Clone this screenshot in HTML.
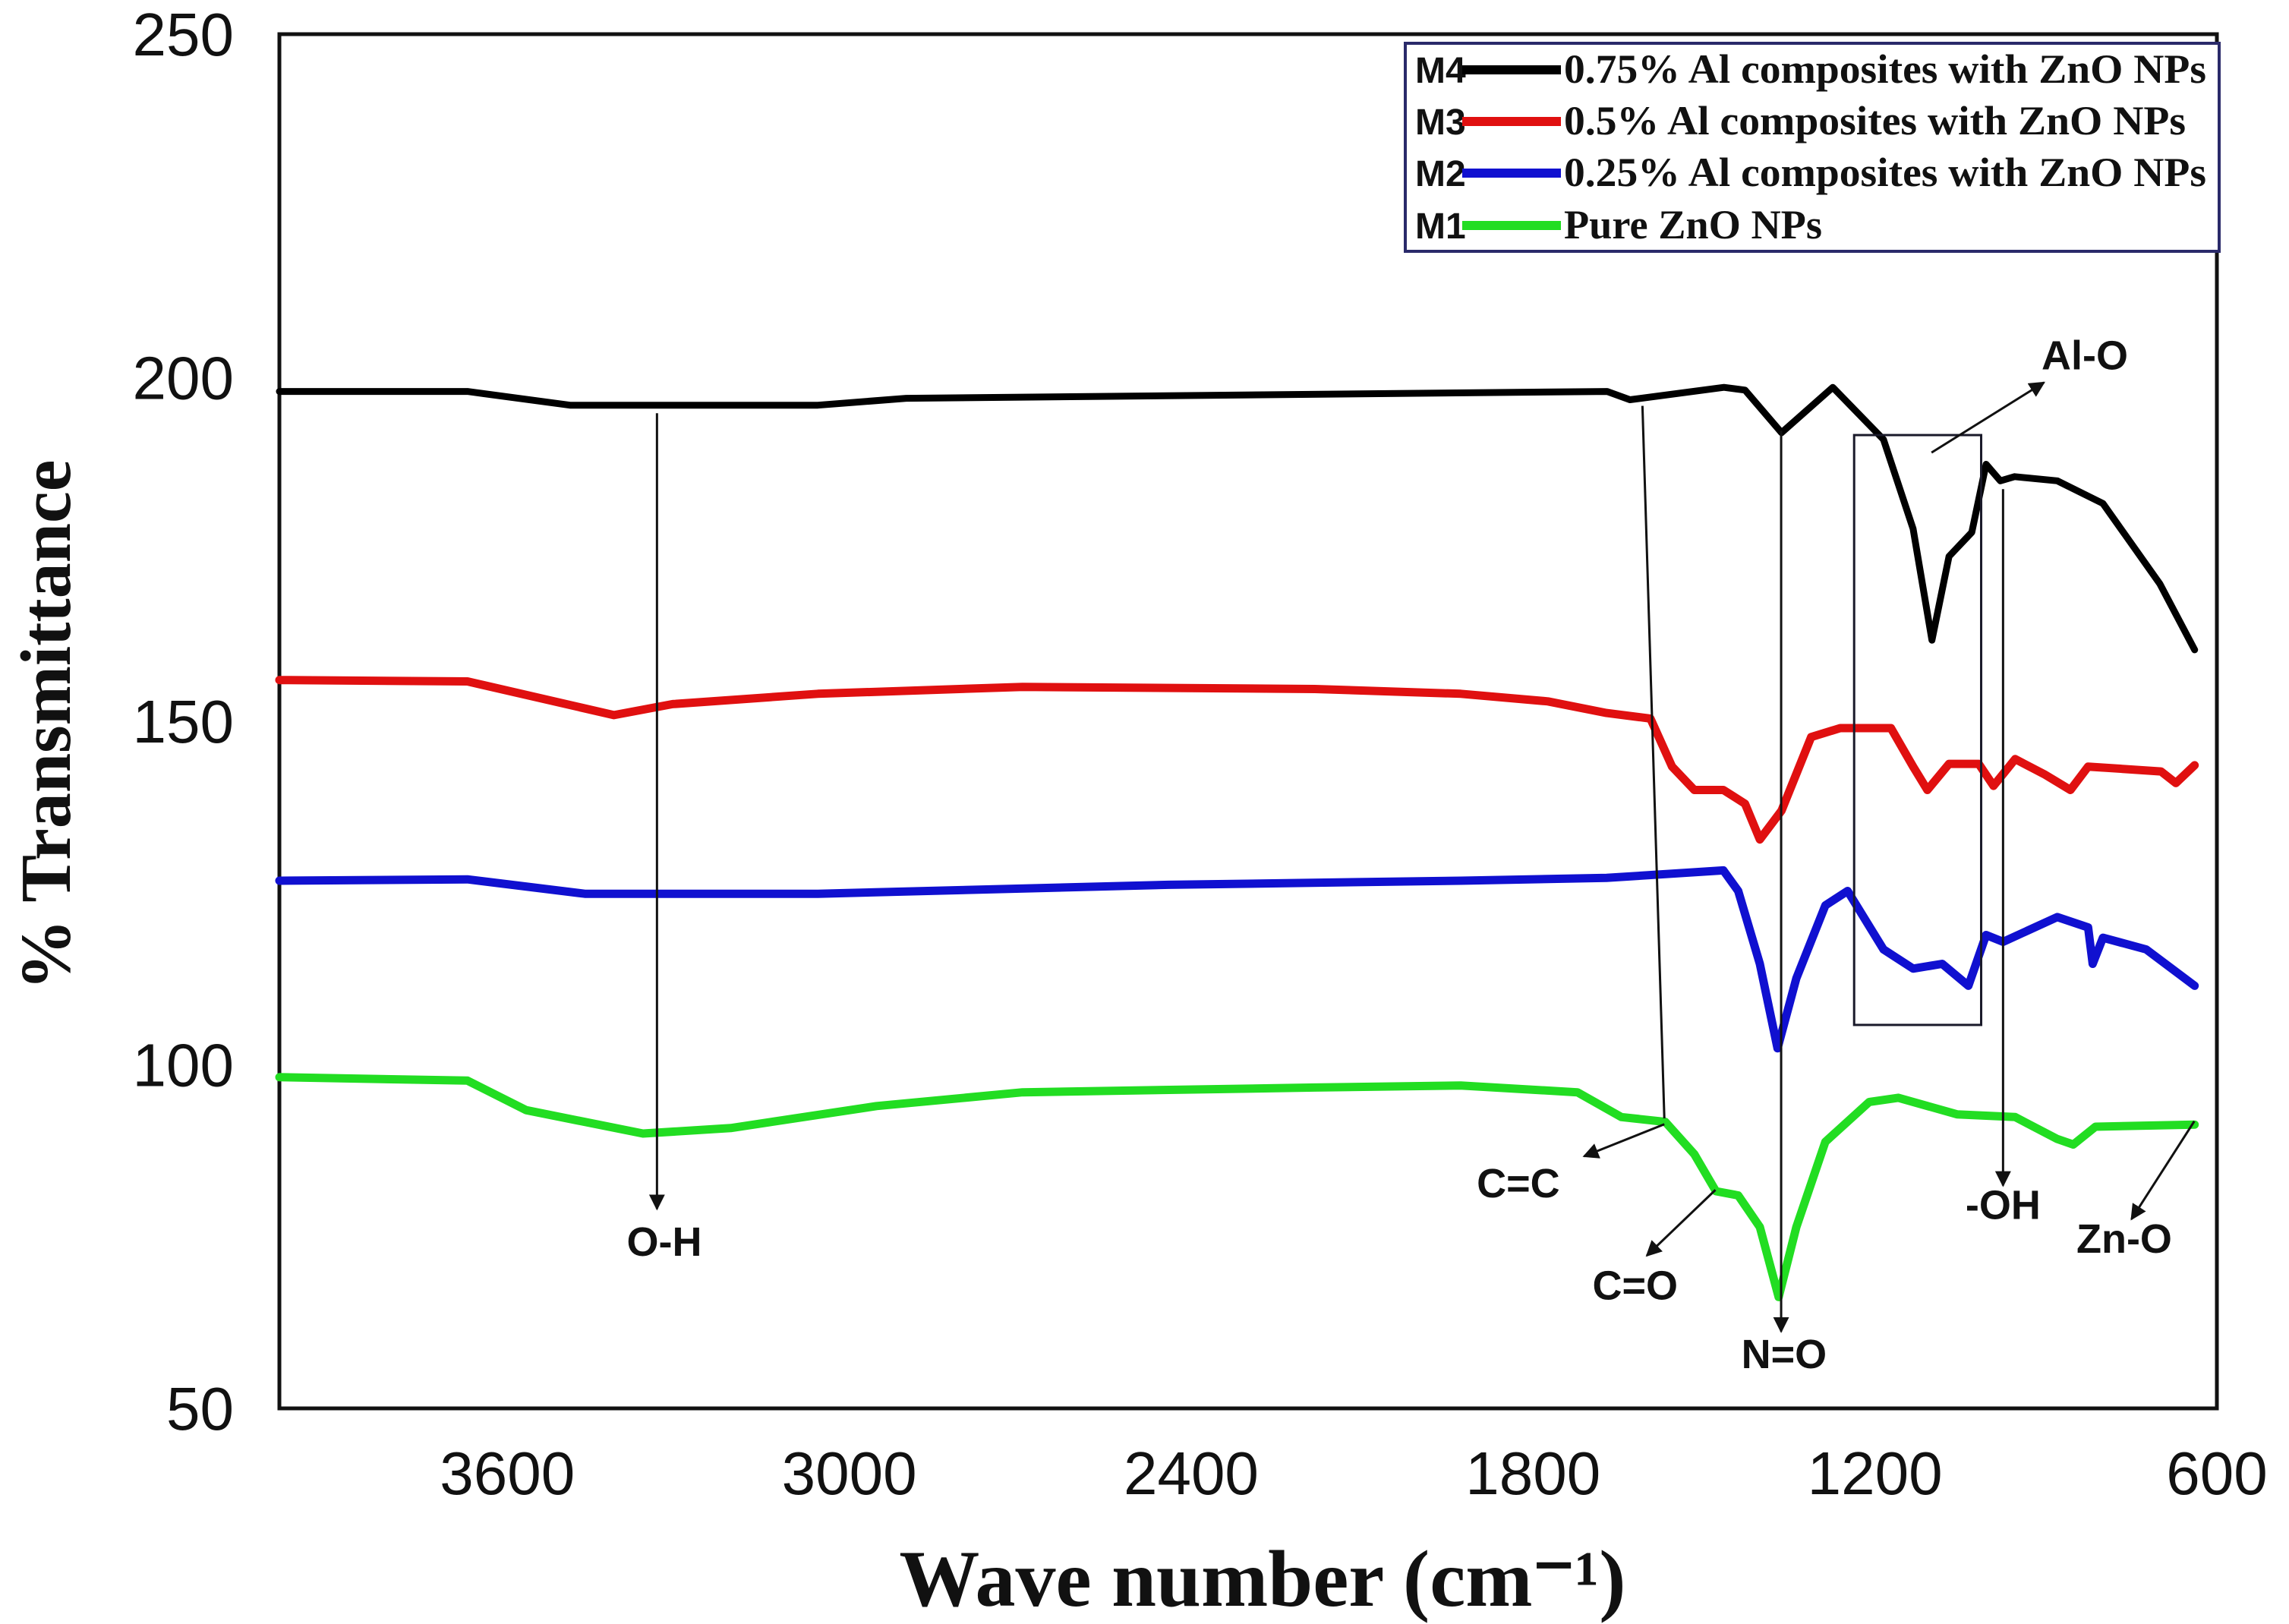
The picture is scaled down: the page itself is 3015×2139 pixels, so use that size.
<!DOCTYPE html>
<html><head><meta charset="utf-8"><style>
html,body{margin:0;padding:0;background:#fff;}
svg{display:block;}
.tick{font-family:"Liberation Sans",sans-serif;font-size:80px;fill:#111;}
.ann{font-family:"Liberation Sans",sans-serif;font-size:54px;font-weight:bold;fill:#111;}
.leg{font-family:"Liberation Serif",serif;font-size:54px;font-weight:bold;fill:#111;}
.legm{font-family:"Liberation Sans",sans-serif;font-size:48px;font-weight:bold;fill:#111;}
</style></head><body>
<svg id="chart" width="3015" height="2139" viewBox="0 0 3015 2139" xmlns="http://www.w3.org/2000/svg">
<defs><marker id="ah" viewBox="0 0 10 10" refX="9" refY="5" markerWidth="7" markerHeight="7" orient="auto-start-reverse"><path d="M0,0 L10,5 L0,10 z" fill="#111"/></marker></defs>
<rect x="368" y="45" width="2552" height="1810" fill="none" stroke="#111" stroke-width="5"/>
<g id="ticks"></g>
<g id="series"></g>
<g id="annotations"></g>
<text x="1663" y="2115" text-anchor="middle" font-family="Liberation Serif,serif" font-weight="bold" font-size="106" fill="#111">Wave number (cm⁻¹)</text>
<text transform="translate(92,955) rotate(-90)" text-anchor="middle" font-family="Liberation Serif,serif" font-weight="bold" font-size="94" fill="#111">% Transmittance</text>
<g>
<rect x="1851" y="57" width="1072" height="274" fill="#fff" stroke="#2a2a6a" stroke-width="4"/>
</g>
<g id="legend-entries"></g>
</svg>
<script>
const xTicks=[3600,3000,2400,1800,1200,600];
const yTicks=[50,100,150,200,250];
const legendLabels=["0.75% Al composites  with ZnO NPs","0.5% Al composites  with ZnO NPs","0.25% Al composites  with ZnO NPs","Pure ZnO NPs"];
const legendCodes=["M4","M3","M2","M1"];
const colors=["#000000","#e01010","#1010d0","#22dd22"];
const m4wn=[4000,3670,3490,3055,2900,1670,1630,1465,1428,1364,1274,1185,1133,1100,1070,1030,1005,980,955,880,800,700,639];
const m4val=[198,198,196,196,197,198,196.8,198.6,198.2,192,198.6,191,178,161.8,174,177.5,187.4,185,185.6,185,181.7,170,160.4];
const m3wn=[4000,3670,3413,3310,3055,2696,2183,1927,1774,1671,1594,1556,1517,1466,1428,1402,1364,1312,1261,1172,1133,1108,1070,1018,992,954,903,857,826,698,672,639];
const m3val=[156,155.8,150.9,152.5,154,155,154.7,154,152.9,151.2,150.4,143.4,140,140,138,132.8,137,147.7,149,149,143.4,140,143.8,143.8,140.6,144.5,142.3,140,143.4,142.7,141,143.6];
const m2wn=[4000,3670,3464,3055,2440,1927,1671,1466,1440,1402,1371,1338,1287,1248,1185,1133,1082,1036,1005,975,880,826,818,800,724,639];
const m2val=[126.8,127,124.9,124.9,126.2,126.8,127.2,128.3,125.3,114.7,102.4,112.6,123.2,125.3,116.8,114,114.7,111.5,118.9,117.9,121.5,120,114.7,118.5,116.8,111.5];
const m1wn=[4000,3670,3567,3362,3208,2952,2696,2183,1927,1722,1645,1568,1517,1479,1440,1402,1369,1338,1287,1210,1159,1056,954,880,852,813,639];
const m1val=[98.2,97.7,93.4,90,90.8,94,96,96.7,97,96,92.4,91.7,87,81.6,81,76.4,66.2,76.4,88.8,94.6,95.2,92.8,92.4,89.2,88.4,91,91.3];
const seriesWn=[m4wn,m3wn,m2wn,m1wn];
const seriesVal=[m4val,m3val,m2val,m1val];
const seriesNames=["series-m4","series-m3","series-m2","series-m1"];
const NS="http://www.w3.org/2000/svg";
function xs(w){return 2920-(w-600)*(2552/3400);}
function ys(v){return 1855-(v-50)*(1810/200);}
function mk(tag,attrs,parent){const e=document.createElementNS(NS,tag);for(const k in attrs)e.setAttribute(k,attrs[k]);parent.appendChild(e);return e;}
const tg=document.getElementById('ticks');
xTicks.forEach(t=>{const e=mk('text',{x:xs(t),y:1968,'text-anchor':'middle',class:'tick'},tg);e.textContent=t;

});
yTicks.forEach(t=>{const e=mk('text',{x:308,y:ys(t)+28,'text-anchor':'end',class:'tick'},tg);e.textContent=t;

});
const sg=document.getElementById('series');
seriesWn.forEach((wn,i)=>{const pts=wn.map((w,j)=>xs(w).toFixed(1)+','+ys(seriesVal[i][j]).toFixed(1)).join(' ');
const p=mk('polyline',{points:pts,fill:'none',stroke:colors[i],'stroke-width':i==0?9:11,'stroke-linejoin':'round','stroke-linecap':'round'},sg);

});
const lg=document.getElementById('legend-entries');
const legLens=[846,819,846,340];
legendLabels.forEach((l,i)=>{const cy=[92,160,228,297][i];
const g=mk('g',{},lg);


const c=mk('text',{x:1864,y:cy+17,class:'legm'},g);c.textContent=legendCodes[i];
mk('line',{x1:1926,y1:cy,x2:2056,y2:cy,stroke:colors[i],'stroke-width':12},g);
const t=mk('text',{x:2060,y:cy+17,class:'leg',textLength:legLens[i],lengthAdjust:'spacingAndGlyphs'},g);t.textContent=l;});
const ag=document.getElementById('annotations');
const S=1.923;
function ln(x1,y1,x2,y2,arrow,name){const e=mk('line',{x1:x1*S,y1:y1*S,x2:x2*S,y2:y2*S,stroke:'#111','stroke-width':3},ag);if(arrow)e.setAttribute('marker-end','url(#ah)');

}
function lab(x,y,t,name){const e=mk('text',{x:x*S,y:y*S,'text-anchor':'middle',class:'ann'},ag);e.textContent=t;

}
ln(450,283,450,828,true,'oh-arrow');lab(455,860,'O-H','oh-label');
ln(1125,278,1140,766,false,'cc-line');ln(1140,770,1085,792,true,'cc-arrow');lab(1040,820,'C=C','cc-label');
ln(1175,815,1128,860,true,'co-arrow');lab(1120,890,'C=O','co-label');
ln(1220,295,1220,912,true,'no-arrow');lab(1222,937,'N=O','no-label');
const b=mk('rect',{x:1270*S,y:298*S,width:87*S,height:404*S,fill:'none',stroke:'#1a1a2a','stroke-width':3},ag);


ln(1323,310,1400,262,true,'alo-arrow');lab(1428,253,'Al-O','alo-label');
ln(1372,335,1372,812,true,'hydroxyl-arrow');lab(1372,835,'-OH','hydroxyl-label');
ln(1503,768,1460,835,true,'zno-arrow');lab(1455,858,'Zn-O','zno-label');
</script>
</body></html>
